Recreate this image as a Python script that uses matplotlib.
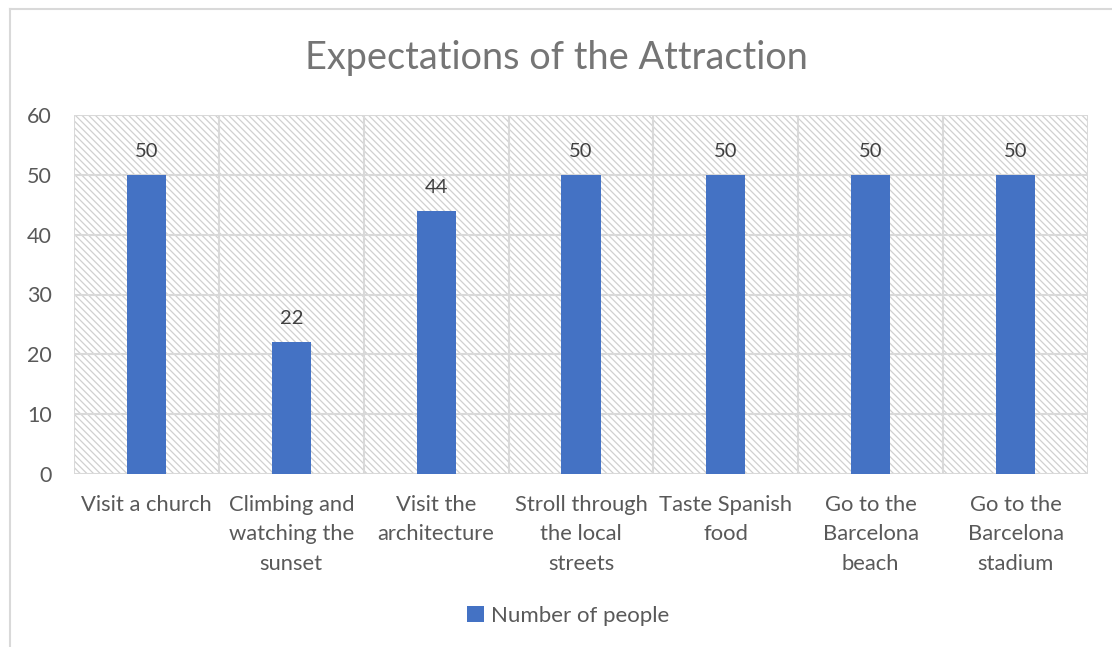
import numpy as np
import matplotlib.pyplot as plt
from matplotlib.lines import Line2D

categories = ["Visit a church", "Climbing and\nwatching the\nsunset", "Visit the\narchitecture",
              "Stroll through\nthe local\nstreets", "Taste Spanish\nfood", "Go to the\nBarcelona\nbeach",
              "Go to the\nBarcelona\nstadium"]
people = [50, 22, 44, 50, 50, 50, 50]
yticks = [0, 10, 20, 30, 40, 50, 60]

plt.rcParams['font.family'] = ['Lato', 'DejaVu Sans']
plt.rcParams['hatch.linewidth'] = 0.9

txt = '#595959'
grid = '#d9d9d9'

fig = plt.figure(figsize=(11.12, 6.47), dpi=100)
ax = fig.add_axes([74 / 1112, 1 - 474 / 647, (1088 - 74) / 1112, (474 - 115) / 647])

x = np.arange(len(categories))
ax.set_xlim(-0.5, len(categories) - 0.5)
ax.set_ylim(0, 60)

# hatched plot-area background
ax.add_patch(plt.Rectangle((0, 0), 1, 1, transform=ax.transAxes, facecolor='white',
                           edgecolor='#d0d0d0', linewidth=0, hatch='\\' * 5, zorder=0))

for y in yticks:
    ax.axhline(y, color=grid, lw=1.5, zorder=1)
for b in np.arange(-0.5, len(categories), 1):
    ax.axvline(b, color=grid, lw=1.5, zorder=1)

bars = ax.bar(x, people, width=0.27, color='#4472c4', zorder=2, label='Number of people')
for xi, v in zip(x, people):
    ax.text(xi, v + 2.5, str(v), ha='center', va='bottom', fontsize=14.5, color='#404040')

ax.set_xticks(x)
ax.set_xticklabels(categories, fontsize=15.8, color=txt, linespacing=1.6, va='top')
ax.set_yticks(yticks)
ax.set_yticklabels([str(t) for t in yticks], fontsize=15.5, color=txt)
ax.tick_params(length=0, pad=15, axis='x')
ax.tick_params(length=0, pad=16, axis='y')
for s in ax.spines.values():
    s.set_visible(False)

fig.text(0.5, 1 - 58 / 647, "Expectations of the Attraction", ha='center', va='center',
         fontsize=27.3, color='#757575')

fig.legend(handles=[bars], loc='center', bbox_to_anchor=(0.5 + 12 / 1112, 1 - 616 / 647),
           frameon=False, fontsize=16, labelcolor=txt, handlelength=0.75, handleheight=0.75,
           handletextpad=0.3)

# chart border (left and top edges visible)
fig.add_artist(Line2D([10 / 1112, 10 / 1112], [0, 1 - 9 / 647], transform=fig.transFigure,
                      color='#d9d9d9', lw=1.5))
fig.add_artist(Line2D([10 / 1112, 1], [1 - 9 / 647, 1 - 9 / 647], transform=fig.transFigure,
                      color='#d9d9d9', lw=1.5))

fig.savefig('out.png', dpi=100)
